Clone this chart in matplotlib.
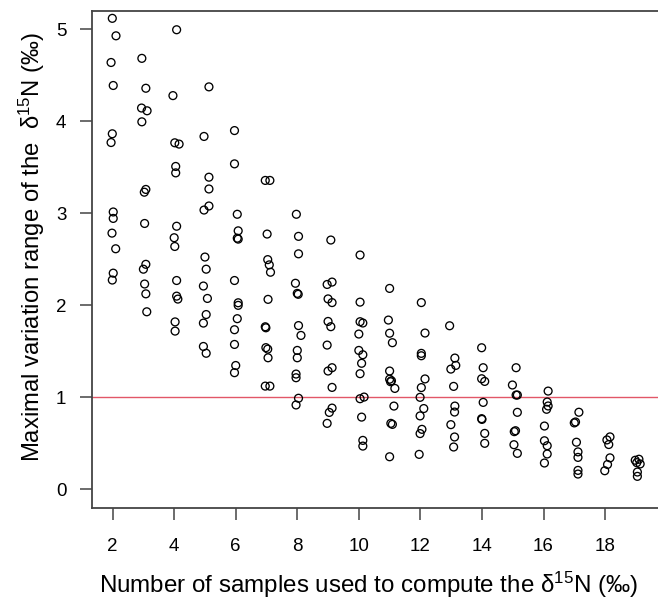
import matplotlib
matplotlib.use("Agg")
import matplotlib.pyplot as plt

# ------------------------------------------------------------------
# Data (sample count with its small jitter,
# maximal variation range of d15N)
# ------------------------------------------------------------------
n_samples = [
    1.99, 2.11, 1.95, 2.02, 1.99, 1.95, 2.02, 2.02, 1.98, 2.10, 2.02, 1.99,
    2.95, 3.08, 2.94, 3.12, 2.95, 3.08, 3.03, 3.04, 3.08, 3.00, 3.04, 3.08, 3.11,
    4.08, 3.96, 4.02, 4.16, 4.05, 4.05, 4.08, 4.00, 4.02, 4.08, 4.08, 4.12, 4.03, 4.03,
    5.13, 4.97, 5.13, 5.13, 5.13, 4.97, 5.00, 5.04, 4.95, 5.08, 5.04, 4.95, 4.95, 5.04,
    5.96, 5.96, 6.05, 6.08, 6.05, 6.08, 5.96, 6.08, 6.08, 6.05, 5.96, 5.96, 6.00, 5.96,
    6.96, 7.11, 7.02, 7.04, 7.09, 7.13, 7.05, 6.96, 6.98, 6.98, 7.04, 7.05, 6.96, 7.11,
    7.97, 8.04, 8.04, 7.94, 8.00, 8.03, 8.04, 8.12, 8.00, 8.00, 7.96, 7.96, 8.04, 7.96,
    9.09, 8.97, 9.13, 9.00, 9.13, 9.00, 9.09, 8.97, 9.00, 9.13, 9.13, 9.13, 9.04, 8.97,
    10.04, 10.04, 10.04, 10.13, 10.00, 10.00, 10.13, 10.09, 10.04, 10.04, 10.17, 10.09,
    10.13, 10.13,
    11.00, 10.96, 11.00, 11.09, 11.00, 11.00, 11.06, 11.03, 11.17, 11.14, 11.04, 11.09,
    11.00,
    12.03, 12.15, 12.03, 12.03, 12.15, 12.03, 11.99, 12.11, 11.99, 12.05, 11.99, 11.96,
    12.95, 13.12, 13.15, 12.99, 13.08, 13.12, 13.11, 12.99, 13.11, 13.08,
    13.99, 14.04, 13.99, 14.09, 14.04, 13.99, 14.00, 14.09, 14.09,
    15.11, 14.99, 15.11, 15.15, 15.15, 15.05, 15.09, 15.04, 15.15,
    16.15, 16.12, 16.15, 16.10, 16.03, 16.03, 16.12, 16.12, 16.03,
    17.15, 17.00, 17.04, 17.07, 17.12, 17.12, 17.12, 17.12,
    18.16, 18.06, 18.12, 18.16, 18.08, 17.99,
    18.98, 19.10, 19.03, 19.14, 19.05, 19.05,
]
max_range = [
    5.12, 4.93, 4.64, 4.39, 3.865, 3.77, 3.015, 2.945, 2.785, 2.615, 2.35, 2.275,
    4.685, 4.36, 4.145, 4.115, 3.995, 3.26, 3.23, 2.89, 2.446, 2.393, 2.232, 2.125, 1.93,
    4.996, 4.28, 3.767, 3.753, 3.51, 3.44, 2.86, 2.735, 2.64, 2.27, 2.10, 2.068, 1.82, 1.72,
    4.375, 3.836, 3.393, 3.265, 3.08, 3.036, 2.525, 2.393, 2.21, 2.075, 1.90, 1.807, 1.553,
    1.479,
    3.90, 3.538, 2.99, 2.81, 2.73, 2.72, 2.27, 2.028, 2.00, 1.855, 1.735, 1.575, 1.346, 1.268,
    3.358, 3.358, 2.775, 2.497, 2.44, 2.36, 2.065, 1.767, 1.756, 1.54, 1.524, 1.43, 1.122,
    1.122,
    2.99, 2.75, 2.56, 2.24, 2.13, 2.12, 1.78, 1.673, 1.51, 1.43, 1.253, 1.213, 0.99, 0.917,
    2.71, 2.227, 2.253, 2.07, 2.03, 1.825, 1.768, 1.568, 1.286, 1.322, 1.108, 0.883, 0.836,
    0.717,
    2.547, 2.035, 1.822, 1.808, 1.688, 1.51, 1.463, 1.37, 1.257, 0.985, 1.003, 0.785,
    0.532, 0.47,
    2.184, 1.84, 1.697, 1.594, 1.286, 1.197, 1.18, 1.17, 1.097, 0.905, 0.717, 0.706, 0.354,
    2.03, 1.699, 1.478, 1.452, 1.20, 1.106, 1.00, 0.878, 0.798, 0.652, 0.606, 0.38,
    1.778, 1.427, 1.347, 1.307, 1.119, 0.905, 0.84, 0.703, 0.569, 0.46,
    1.539, 1.322, 1.202, 1.173, 0.945, 0.768, 0.76, 0.608, 0.50,
    1.322, 1.134, 1.025, 1.025, 0.837, 0.627, 0.637, 0.485, 0.391,
    1.068, 0.949, 0.906, 0.87, 0.688, 0.528, 0.474, 0.384, 0.286,
    0.838, 0.722, 0.732, 0.512, 0.407, 0.347, 0.206, 0.166,
    0.57, 0.537, 0.487, 0.342, 0.27, 0.202,
    0.316, 0.327, 0.29, 0.276, 0.188, 0.141,
]
threshold = 1.0
x_ticks = [2, 4, 6, 8, 10, 12, 14, 16, 18]
y_ticks = [0, 1, 2, 3, 4, 5]

# ------------------------------------------------------------------
# Style
# ------------------------------------------------------------------
plt.rcParams["font.family"] = ["Liberation Sans", "DejaVu Sans"]
plt.rcParams["mathtext.fontset"] = "custom"
plt.rcParams["mathtext.rm"] = "Liberation Sans"
plt.rcParams["mathtext.it"] = "Liberation Sans:italic"

axis_color = "#444444"
line_red = "#E25768"

fig = plt.figure(figsize=(6.58, 6.0), dpi=100)
ax = fig.add_axes([0.1398, 0.1538, 0.8602, 0.8279])

ax.scatter(n_samples, max_range, s=32, facecolors="none", edgecolors="black",
           linewidths=0.95, zorder=3)
ax.axhline(threshold, color=line_red, linewidth=1.0, zorder=2)

ax.set_xlim(1.33, 19.72)
ax.set_ylim(-0.2, 5.2)
ax.set_xticks(x_ticks)
ax.set_yticks(y_ticks)

for side in ["left", "bottom", "top"]:
    ax.spines[side].set_color(axis_color)
    ax.spines[side].set_linewidth(1.3)
ax.spines["right"].set_visible(False)

ax.tick_params(axis="both", direction="out", length=8.5, width=1.1,
               color=axis_color, labelsize=13.5, labelcolor="black")
ax.tick_params(axis="x", pad=13)
ax.tick_params(axis="y", pad=10)

ax.set_xlabel("Number of samples used to compute the δ$^{15}$N (‰)", fontsize=17.4)
ax.set_ylabel("Maximal variation range of the  δ$^{15}$N (‰)", fontsize=17.2)
ax.xaxis.set_label_coords(0.488, -0.156)
ax.yaxis.set_label_coords(-0.106, 0.524)
ax.xaxis.label.set_va("center")
ax.yaxis.label.set_va("center")

fig.savefig("out.png", dpi=100)
